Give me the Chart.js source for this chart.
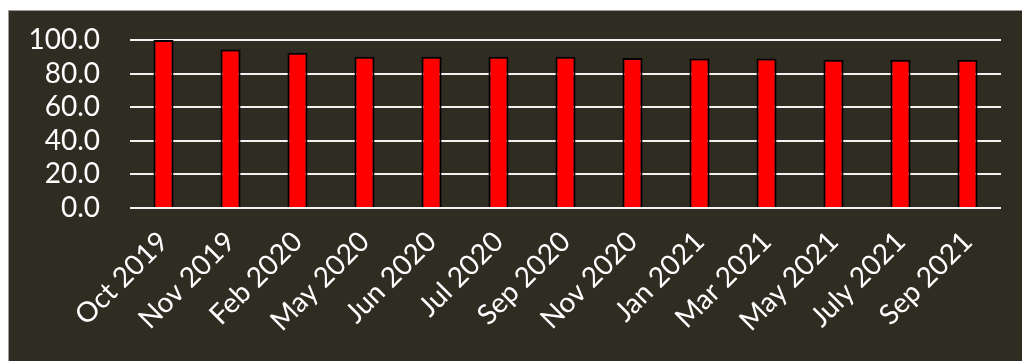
<!DOCTYPE html>
<html><head><meta charset="utf-8">
<script src="https://cdn.jsdelivr.net/npm/chart.js@4/dist/chart.umd.min.js"></script>
<style>
html,body{margin:0;padding:0;background:#fff;}
#wrap{position:absolute;left:8px;top:10px;width:1014px;height:351px;background:#2f2c22;border-top:1px solid #9a9a9a;border-left:1px solid #9a9a9a;box-sizing:border-box;}
canvas{display:block;}
</style></head><body>
<div id="wrap"><canvas id="c" width="1013" height="350"></canvas></div>
<script>
const categories = ["Oct 2019","Nov 2019","Feb 2020","May 2020","Jun 2020","Jul 2020","Sep 2020","Nov 2020","Jan 2021","Mar 2021","May 2021","July 2021","Sep 2021"];
const values = [100.0, 94.4, 92.4, 90.0, 90.0, 90.0, 90.0, 89.3, 89.0, 89.0, 88.3, 88.3, 88.3];
const yTicks = [0, 20, 40, 60, 80, 100];

const FONT = "Lato, 'Open Sans', sans-serif";
new Chart(document.getElementById('c'), {
  type: 'bar',
  data: { labels: categories, datasets: [{ data: values, backgroundColor: '#ff0000', borderColor: '#000000', borderWidth: 2, borderSkipped: 'bottom', categoryPercentage: 1.0, barPercentage: 0.3 }] },
  options: {
    responsive: false, animation: false,
    layout: { padding: { top: 29, right: 21, left: 0, bottom: 0 } },
    plugins: { legend: { display: false }, tooltip: { enabled: false } },
    scales: {
      x: {
        grid: { display: false, drawTicks: false },
        border: { display: false },
        ticks: { color: '#ffffff', font: { family: FONT, size: 28 }, maxRotation: 45, minRotation: 45, padding: 17, autoSkip: false },
        afterFit: (a) => { a.height = 153; a.paddingLeft = 0; a.paddingRight = 0; }
      },
      y: {
        min: 0, max: 100,
        afterBuildTicks: (a) => { a.ticks = yTicks.map(v => ({ value: v })); },
        grid: { color: '#f2f2f2', lineWidth: 2, drawTicks: false },
        border: { display: false },
        ticks: { color: '#ffffff', font: { family: FONT, size: 28 }, padding: 30, autoSkip: false, callback: (v) => Number(v).toFixed(1) },
        afterFit: (a) => { a.width = 121; a.paddingTop = 0; a.paddingBottom = 0; }
      }
    }
  }
});
</script></body></html>
